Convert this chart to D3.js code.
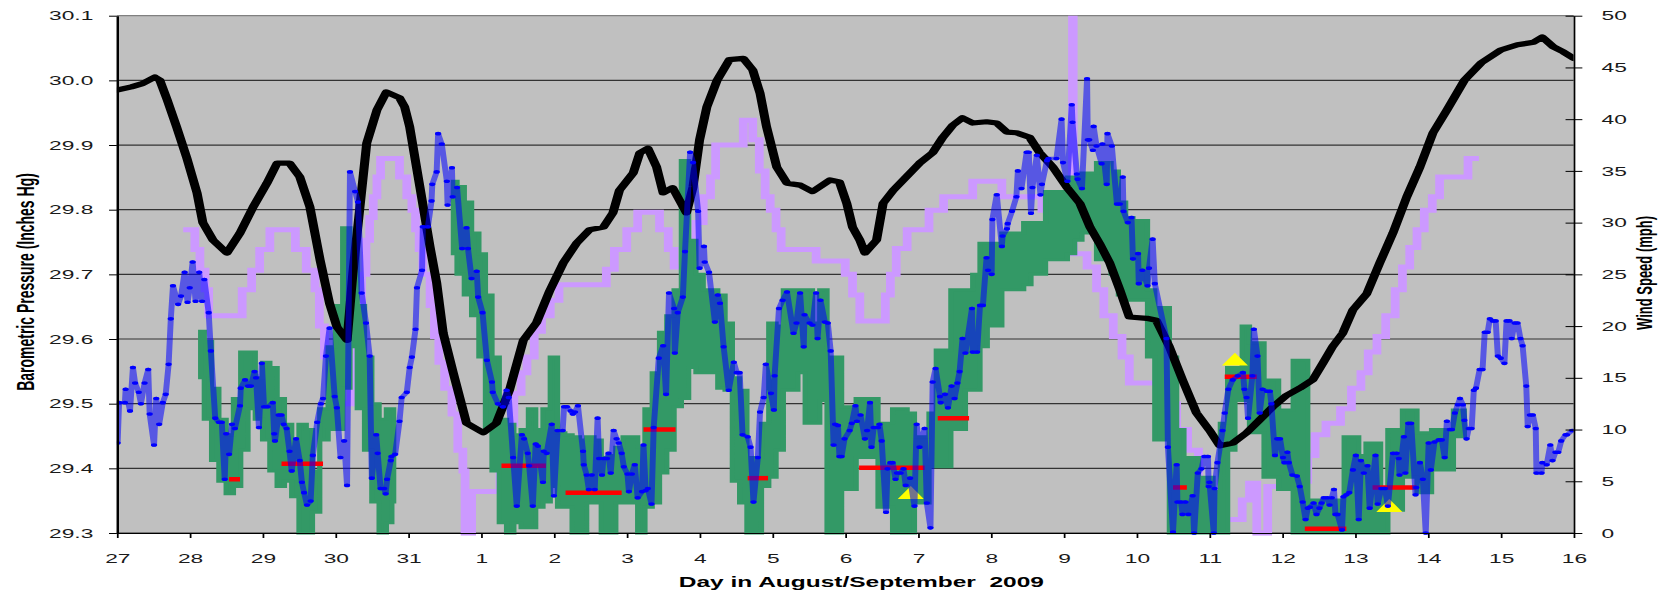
<!DOCTYPE html>
<html>
<head>
<meta charset="utf-8">
<script src="https://cdn.jsdelivr.net/npm/d3@7/dist/d3.min.js"></script>
<style>
html, body { margin: 0; padding: 0; background: #fff; overflow: hidden; }
svg { display: block; }
</style>
</head>
<body>
<div id="chart"></div>
<script>
// ---- data (days after 27 Aug 2009 00:00) ----
const dayLabels = ['27','28','29','30','31','1','2','3','4','5','6','7','8','9','10','11','12','13','14','15','16'];
const pressureTicks = [29.3, 29.4, 29.5, 29.6, 29.7, 29.8, 29.9, 30.0, 30.1];
const windTicks = [0, 5, 10, 15, 20, 25, 30, 35, 40, 45, 50];

// barometric pressure, inches Hg
const pressure = [
[0,29.985],[0.2,29.99],[0.35,29.995],[0.52,30.005],[0.59,30.0],[0.69,29.97],[0.82,29.928],[0.96,29.88],[1.1,29.826],[1.18,29.78],[1.32,29.753],[1.51,29.733],[1.69,29.764],[1.87,29.804],[2.06,29.841],[2.2,29.872],[2.37,29.872],[2.51,29.851],[2.65,29.804],[2.79,29.722],[2.92,29.655],[3.02,29.619],[3.16,29.598],[3.24,29.702],[3.43,29.903],[3.57,29.954],[3.7,29.982],[3.88,29.973],[3.95,29.959],[4.02,29.928],[4.16,29.835],[4.3,29.742],[4.39,29.687],[4.48,29.609],[4.62,29.547],[4.8,29.47],[5.03,29.455],[5.21,29.47],[5.39,29.521],[5.58,29.598],[5.76,29.625],[5.94,29.674],[6.13,29.718],[6.31,29.748],[6.49,29.769],[6.68,29.773],[6.81,29.795],[6.9,29.83],[7.09,29.857],[7.18,29.888],[7.29,29.895],[7.41,29.866],[7.5,29.826],[7.63,29.834],[7.82,29.795],[7.91,29.835],[8.0,29.908],[8.1,29.959],[8.24,30.0],[8.41,30.032],[8.6,30.034],[8.73,30.016],[8.83,29.98],[8.92,29.928],[9.06,29.866],[9.2,29.841],[9.38,29.838],[9.55,29.828],[9.79,29.846],[9.92,29.843],[10.02,29.81],[10.1,29.773],[10.2,29.753],[10.27,29.733],[10.43,29.753],[10.52,29.81],[10.66,29.83],[10.84,29.851],[11.02,29.872],[11.2,29.888],[11.34,29.912],[11.48,29.931],[11.61,29.942],[11.75,29.934],[11.94,29.936],[12.08,29.934],[12.22,29.92],[12.35,29.919],[12.53,29.912],[12.67,29.888],[12.85,29.866],[13.04,29.835],[13.22,29.81],[13.36,29.773],[13.49,29.748],[13.63,29.718],[13.77,29.676],[13.9,29.634],[14.14,29.632],[14.27,29.629],[14.45,29.588],[14.63,29.537],[14.82,29.486],[15.0,29.459],[15.14,29.435],[15.32,29.439],[15.51,29.455],[15.69,29.475],[15.87,29.495],[16.06,29.513],[16.24,29.524],[16.42,29.537],[16.56,29.563],[16.69,29.588],[16.83,29.609],[16.97,29.645],[17.16,29.67],[17.34,29.718],[17.52,29.764],[17.71,29.82],[17.89,29.866],[18.07,29.919],[18.26,29.954],[18.5,30.0],[18.73,30.027],[19.0,30.047],[19.23,30.055],[19.45,30.059],[19.57,30.067],[19.72,30.052],[19.86,30.044],[20.0,30.034]
];

// wind speed, mph (blue)
const windSpeed = [
[0.01,8.7],[0.03,12.6],[0.11,12.6],[0.12,13.9],[0.18,11.8],[0.22,16],[0.25,14.5],[0.3,13.6],[0.33,12.5],[0.38,14.5],[0.43,15.8],[0.45,11.5],[0.51,8.5],[0.54,13],[0.58,10.5],[0.63,12.6],[0.67,13.4],[0.71,16.3],[0.74,20.7],[0.77,23.9],[0.84,22.1],[0.88,22.9],[0.93,25.2],[0.97,22.3],[1.0,23.7],[1.04,26.2],[1.08,22.4],[1.13,25.2],[1.17,22.4],[1.2,24.5],[1.26,21.3],[1.29,17.6],[1.35,11.1],[1.4,10.7],[1.44,10.7],[1.48,5.2],[1.5,9.6],[1.54,7.6],[1.58,10.5],[1.62,10.1],[1.69,12.3],[1.7,14],[1.76,14.8],[1.8,14.2],[1.84,14.2],[1.89,15.6],[1.91,15],[1.95,10.2],[1.99,16.4],[2.02,12.2],[2.07,12.2],[2.14,12.6],[2.16,9.6],[2.17,8.9],[2.22,11.4],[2.26,11.4],[2.29,10.5],[2.33,10.1],[2.37,7.9],[2.4,6],[2.46,9.1],[2.51,7],[2.54,4.9],[2.57,3.9],[2.61,2.7],[2.66,3.1],[2.69,7.5],[2.75,10.7],[2.8,12.5],[2.83,13],[2.87,17.1],[2.92,19.8],[2.99,13.2],[3.02,12.1],[3.07,7.3],[3.12,8.9],[3.16,4.6],[3.2,34.9],[3.27,33],[3.31,32],[3.36,23.2],[3.42,20.3],[3.47,17.1],[3.5,5.3],[3.56,9.5],[3.58,7.7],[3.62,4.3],[3.67,4.3],[3.69,3.8],[3.71,5.2],[3.76,7],[3.77,7.4],[3.82,7.6],[3.88,10.8],[3.91,13.1],[3.98,13.6],[4.02,16],[4.05,17],[4.1,19.7],[4.12,23.7],[4.19,25.4],[4.2,29.6],[4.27,29.6],[4.32,32.1],[4.33,33.7],[4.39,34.9],[4.41,38.6],[4.46,37.6],[4.53,34],[4.54,31.7],[4.6,35.3],[4.61,32.5],[4.67,33.4],[4.74,27.5],[4.8,29.5],[4.82,27.5],[4.87,24.6],[4.94,25.3],[4.96,22.8],[5.02,21.3],[5.08,16.7],[5.15,14.6],[5.16,13.6],[5.23,12.5],[5.3,12.2],[5.35,13.8],[5.38,13.1],[5.44,7.3],[5.49,2.6],[5.56,9.5],[5.59,9.1],[5.64,7.7],[5.66,6.5],[5.71,2.6],[5.75,8.6],[5.78,8.4],[5.85,4.9],[5.86,7.9],[5.9,7.7],[5.97,10.5],[6.0,3.6],[6.05,9.9],[6.12,9.9],[6.14,12.2],[6.18,12.2],[6.23,11.8],[6.26,11.5],[6.29,11.7],[6.33,12.3],[6.4,7.9],[6.41,6.6],[6.45,5.6],[6.48,4.2],[6.52,5.6],[6.56,4.2],[6.6,11.1],[6.62,7.2],[6.66,5.6],[6.68,7.2],[6.73,7.2],[6.75,7.7],[6.78,5.8],[6.82,9.9],[6.86,9.1],[6.89,8.7],[6.93,7.7],[6.96,6.4],[7.01,5.7],[7.03,4],[7.07,5.7],[7.11,6.6],[7.15,3.4],[7.21,4],[7.23,8.5],[7.26,4.1],[7.29,4.3],[7.34,2.8],[7.37,10.2],[7.44,16.9],[7.5,18.1],[7.54,13.4],[7.58,23.2],[7.65,21.7],[7.66,17.4],[7.7,21.3],[7.77,22.8],[7.8,27.2],[7.87,36.8],[7.91,35.8],[7.98,31.1],[8.0,25.6],[8.06,27.7],[8.07,26.2],[8.13,25.2],[8.21,20.4],[8.25,23],[8.28,22.2],[8.33,18],[8.4,13.8],[8.47,16.5],[8.51,15.5],[8.55,15.5],[8.59,9.5],[8.66,9.3],[8.7,8.3],[8.74,3],[8.8,7.3],[8.83,11.7],[8.88,13.1],[8.91,16.3],[8.98,13.5],[9.02,11.9],[9.03,15.2],[9.09,21.7],[9.14,22.5],[9.2,23.3],[9.29,19.3],[9.33,20.3],[9.38,23.2],[9.43,18],[9.44,21.1],[9.51,20.3],[9.55,20.1],[9.6,23.2],[9.62,18.8],[9.66,22.5],[9.72,20.4],[9.76,20.3],[9.8,17.6],[9.84,8.5],[9.86,10.5],[9.9,10.4],[9.92,7.4],[9.95,7.4],[9.99,9.1],[10.06,9.9],[10.09,10.6],[10.14,12.3],[10.16,10.8],[10.21,11.4],[10.27,9.1],[10.3,9.9],[10.34,12.6],[10.36,8.3],[10.39,10.2],[10.45,10.2],[10.47,10.5],[10.5,8.9],[10.56,2],[10.58,6.2],[10.62,6.8],[10.65,6.8],[10.69,5.2],[10.71,5.8],[10.76,5.8],[10.8,6.2],[10.83,4.6],[10.89,5.3],[10.95,2.6],[10.98,10.5],[11.02,8.3],[11.09,10.1],[11.12,2.9],[11.17,0.5],[11.2,14.6],[11.24,15.9],[11.3,13.2],[11.31,12.6],[11.37,13.4],[11.41,12.1],[11.46,14.2],[11.5,13],[11.54,14.5],[11.57,15.6],[11.61,18.8],[11.65,17.4],[11.74,21.7],[11.75,17.5],[11.81,17.5],[11.85,22],[11.89,22],[11.94,26.6],[11.96,25.4],[12.01,25],[12.02,30.3],[12.08,32.7],[12.15,27.7],[12.16,28.7],[12.22,29.4],[12.23,29.9],[12.29,31.1],[12.35,32.5],[12.37,35],[12.42,33.3],[12.49,36.8],[12.52,36.8],[12.55,30.9],[12.57,33.4],[12.63,36.5],[12.68,32.7],[12.7,33.7],[12.77,36],[12.79,36.2],[12.9,36.2],[12.97,40],[12.99,35.8],[13.05,34],[13.11,41.4],[13.12,39.7],[13.18,34.7],[13.19,34.2],[13.25,33.3],[13.32,43.9],[13.33,38],[13.35,38],[13.4,37],[13.41,39.3],[13.45,37.4],[13.52,35.7],[13.53,37.6],[13.59,33.7],[13.6,38.6],[13.66,37.4],[13.73,31.8],[13.77,31.8],[13.81,34.4],[13.82,31.1],[13.88,30],[13.93,30.5],[13.95,26.5],[14.02,27],[14.03,24.1],[14.08,25.4],[14.15,23.9],[14.17,25.6],[14.22,28.4],[14.25,24.1],[14.41,18.8],[14.43,8.3],[14.5,0.1],[14.55,6.6],[14.56,3],[14.61,3],[14.63,1.8],[14.67,3],[14.71,1.8],[14.77,3.6],[14.79,0],[14.84,5.8],[14.89,6.2],[14.93,7.4],[14.98,7.4],[14.99,4.5],[15.0,4.9],[15.06,0],[15.07,4.3],[15.11,6.8],[15.18,9.9],[15.21,11.6],[15.26,13.9],[15.32,14.8],[15.39,15.2],[15.46,15.5],[15.48,13.9],[15.51,13.1],[15.53,11.1],[15.59,15.2],[15.61,19.7],[15.66,17.1],[15.69,11.6],[15.73,13.9],[15.79,13.7],[15.83,13.7],[15.85,12.5],[15.9,7.5],[15.93,9.1],[15.97,9.1],[16.01,7.3],[16.03,6.8],[16.07,7.8],[16.09,6.8],[16.14,5.6],[16.2,5.5],[16.24,4.5],[16.28,3],[16.32,1.3],[16.35,2.4],[16.38,2.5],[16.43,2.9],[16.47,1.8],[16.51,2.4],[16.54,2.9],[16.57,3.4],[16.62,3.4],[16.65,2.7],[16.68,3.4],[16.71,4.2],[16.73,1.8],[16.76,1.8],[16.82,0.3],[16.84,3.5],[16.88,3.7],[16.92,3.9],[16.97,6.1],[17.01,7.5],[17.05,1.3],[17.08,7],[17.12,5.8],[17.17,6.5],[17.2,2.4],[17.28,7.5],[17.31,2.8],[17.36,4.3],[17.41,4.3],[17.45,2.6],[17.52,7.7],[17.57,7.7],[17.6,7.2],[17.61,5.6],[17.67,9.3],[17.69,5.8],[17.73,10.6],[17.77,10.6],[17.83,3.7],[17.84,4.4],[17.89,6.8],[17.93,5.2],[17.97,0],[18.01,8.7],[18.04,6.1],[18.09,8.8],[18.15,9],[18.19,9],[18.23,7.3],[18.26,10.8],[18.3,10],[18.33,10],[18.37,11.6],[18.41,12.4],[18.44,13],[18.48,12.4],[18.5,10.9],[18.53,9.1],[18.56,10.1],[18.6,10.1],[18.63,13.8],[18.66,14],[18.71,15.8],[18.75,15.8],[18.78,19.4],[18.82,19.4],[18.85,20.7],[18.89,20.5],[18.93,20.5],[18.96,17.1],[19.0,16.9],[19.05,16.4],[19.08,20.5],[19.12,20.5],[19.15,18.8],[19.19,20.3],[19.23,20.3],[19.27,18.8],[19.3,18.1],[19.35,14.2],[19.37,10.3],[19.4,11.4],[19.44,11.4],[19.48,10.1],[19.49,5.8],[19.56,5.8],[19.57,6.8],[19.63,6.6],[19.68,8.5],[19.71,7],[19.75,7.8],[19.79,7.8],[19.83,8.9],[19.89,9.5],[19.91,9.5],[19.98,9.9]
];

// green band: [day, low, high] in mph
const gustA = [
[1.15,15,19.5],[1.25,11,18.5],[1.35,7,14],[1.45,5,11],[1.55,3.8,9.5],[1.65,4.5,13],[1.75,8,17.5],[1.85,12,17.5],[1.95,11,15],[2.05,9,16.5],[2.15,6,16],[2.25,4.5,13],[2.35,5,10.5],[2.45,3.5,9],[2.55,0,10.5],[2.65,0,10],[2.72,2,6],[2.85,9,12],[2.95,10,18],[3.05,10,22],[3.15,14,29.5],[3.25,18,28],[3.35,12,22],[3.45,8,17],[3.55,3,12.5],[3.65,0,11],[3.75,1,12],[3.8,3,12]
];
const gustB = [
[4.62,27,34],[4.72,25,33.5],[4.82,23,32],[4.92,21,29],[5.02,17,27],[5.1,10,23],[5.2,6,17],[5.3,1,11],[5.4,0,10.5],[5.5,1,9.5],[5.6,0.5,10],[5.7,0.5,12],[5.8,2.5,10],[5.9,3,12],[6.0,4.5,17],[6.1,2.5,9.7],[6.2,2.5,9.5],[6.3,0,9.3],[6.4,0,9],[6.5,2.9,9.3],[6.6,2.9,9],[6.7,0,7.3],[6.8,0,7.5],[6.9,2.9,8.3],[7.0,2.9,9.3],[7.1,2.9,9.3],[7.2,0,8.3],[7.3,2.5,12],[7.4,2.9,15.5],[7.5,5.8,19.4],[7.6,8,21],[7.7,12.2,23.5],[7.8,13,36],[7.9,16,28.3],[8.0,15.5,25],[8.1,15.5,23.5],[8.2,15.5,23.5],[8.3,14,23],[8.4,13.8,20.3],[8.5,5,15],[8.6,2.9,13.8],[8.7,0,7.3],[8.8,0,7.3],[8.9,4.5,10.6],[9.0,5.4,20.3],[9.1,8,20],[9.2,13.8,23.5],[9.3,13.8,23.5],[9.4,15.5,23.5],[9.5,10.6,23.5],[9.6,10.6,20.3],[9.7,12.8,23.5],[9.8,0,17],[9.9,0,17],[10.0,4.2,12.2],[10.1,4.2,12.2],[10.2,7.3,13],[10.3,7.3,13],[10.4,7.3,13],[10.5,2.5,10.6],[10.6,2.5,10.6],[10.7,0,12],[10.8,0,12],[10.9,0,11.6],[11.0,2.9,9.3],[11.1,2.9,9.3],[11.2,6.4,11.6],[11.3,6.4,17.7],[11.4,6.4,17.7],[11.5,10,23.5],[11.6,10,23.5],[11.7,13.8,23.5],[11.8,13.8,25],[11.9,18,28],[12.0,20,28],[12.1,20,28],[12.2,23.5,29],[12.3,23.5,29],[12.4,23.5,29],[12.5,24,30],[12.6,25,30],[12.7,25,30],[12.8,26.4,33],[12.9,26.4,33],[13.0,26.4,33],[13.1,27,34.4],[13.2,28.3,34.4],[13.3,29,34.8],[13.4,29,34.8],[13.5,26.4,35.8],[13.6,26.4,35.8],[13.7,25,35],[13.8,23,32],[13.9,22.5,30.5],[14.0,22.5,30.2],[14.1,22.5,30.2],[14.2,17,23.5],[14.3,9,21.8],[14.4,9,21.8],[14.5,0,17],[14.6,0,10],[14.7,0,7.3],[14.8,0,7.3],[14.9,0,5.4],[15.0,0,5.4],[15.1,0,4],[15.2,0,10.6],[15.3,8,16],[15.4,12.8,16],[15.5,12.8,20],[15.6,9.7,18.4],[15.7,9.7,18.4],[15.8,5.4,14.8],[15.9,5.4,14.8],[16.0,4.2,11.9],[16.1,4.2,11.9],[16.2,0,16.7],[16.3,0,16.7],[16.4,0,3.2],[16.5,0,3.2],[16.6,0,3.2],[16.7,0,3.2],[16.8,0,3.2],[16.9,0,9.3],[17.0,0,9.3],[17.1,0,7.5],[17.2,0,8.7],[17.3,0,8.7],[17.4,0,4.2],[17.5,2.2,10],[17.6,2.2,10],[17.7,5.4,11.9],[17.8,5.4,11.9],[17.9,3.9,9.7],[18.0,3.9,9.7],[18.1,6.1,10],[18.2,6.1,10],[18.3,6.1,10],[18.4,9.3,11.9],[18.5,9.3,11.9]
];

// lavender stepped series, right-axis units
const steps = [
[0.91,29.3],[1.07,27.4],[1.14,25.4],[1.21,23.5],[1.26,21],[1.72,23.5],[1.85,25.4],[1.96,27.4],[2.1,29.3],[2.45,27.4],[2.6,25.4],[2.72,23.5],[2.78,20],[2.85,17],[2.92,14],[3.0,12.5],[3.22,14],[3.26,17],[3.3,21],[3.36,25],[3.42,28.3],[3.47,30.5],[3.52,32.5],[3.57,34.4],[3.62,36.2],[3.88,34.4],[3.98,32.5],[4.05,31.2],[4.1,29.3],[4.15,27.4],[4.2,25],[4.3,22],[4.36,19],[4.42,16.5],[4.5,14],[4.6,11.5],[4.68,8],[4.75,6],[4.78,0],[4.87,4],[5.26,10.5],[5.45,13.5],[5.55,15.5],[5.63,17],[5.73,19.5],[5.83,21],[5.95,22.5],[6.07,24],[6.72,25.5],[6.83,27.4],[7.0,29.3],[7.15,31],[7.45,29.3],[7.57,27.4],[7.65,25.7],[7.85,28],[7.95,30],[8.05,32.5],[8.15,34.4],[8.22,37.5],[8.6,39.9],[8.73,38],[8.82,35],[8.9,32.5],[8.97,31.2],[9.05,29.3],[9.12,27.4],[9.6,26.3],[10.0,25],[10.1,23],[10.2,20.5],[10.55,23],[10.62,25],[10.7,27.5],[10.85,29.3],[11.15,31.2],[11.35,32.5],[11.75,34],[12.15,32.5],[12.7,31.2],[12.8,29.3],[12.95,28],[13.12,50],[13.13,27],[13.32,25.7],[13.45,23.5],[13.55,21],[13.68,19],[13.8,17],[13.9,14.5],[14.4,12.5],[14.55,10],[14.7,8],[14.85,5],[14.95,4],[15.15,1.3],[15.45,3.2],[15.55,4.8],[15.65,0],[15.8,4.5],[16.0,5],[16.35,7.5],[16.45,9.5],[16.6,10.6],[16.8,12],[16.95,14],[17.08,15.5],[17.18,17.5],[17.3,19],[17.42,21],[17.55,23.5],[17.65,25.7],[17.75,27.6],[17.85,29.3],[17.95,31.2],[18.06,32.5],[18.16,34.4],[18.55,36.2],[18.7,36.2]
];

// red bars: [start day, end day, mph]
const calmBars = [
[1.54,1.69,5.2],[2.26,2.83,6.7],[5.28,5.89,6.5],[6.16,6.93,3.9],[7.23,7.67,10],[8.66,8.94,5.3],[10.19,11.09,6.3],[11.27,11.7,11.1],[14.5,14.69,4.4],[15.21,15.65,15.1],[16.31,16.88,0.4],[17.24,17.84,4.4]
];
// yellow triangles: [day, mph]
const markers = [[10.9,3.7],[15.35,16.6],[17.47,2.45]];

// ---- layout ----
const W = 1663, H = 590;
const stretch = 1.75;            // the original picture is drawn widened
const VW = W / stretch;
const plot = {left: 66.8, right: 899.2, top: 15.7, bottom: 533};
const font = '"Liberation Sans", Arial, sans-serif';

const t0 = Date.UTC(2009, 7, 27);
const day = d => new Date(t0 + d * 864e5);

const x = d3.scaleUtc().domain([day(0), day(20)]).range([plot.left, plot.right]);
const yP = d3.scaleLinear().domain([29.3, 30.1]).range([plot.bottom, plot.top]);
const yW = d3.scaleLinear().domain([0, 50]).range([plot.bottom, plot.top]);

const svg = d3.select('#chart').append('svg')
    .attr('width', W)
    .attr('height', H)
    .attr('viewBox', `0 0 ${VW} ${H}`)
    .attr('preserveAspectRatio', 'none');

svg.append('defs').append('clipPath').attr('id', 'clip')
    .append('rect')
    .attr('x', plot.left)
    .attr('y', plot.top)
    .attr('width', plot.right - plot.left)
    .attr('height', plot.bottom - plot.top + 3);

svg.append('rect')
    .attr('x', plot.left)
    .attr('y', plot.top)
    .attr('width', plot.right - plot.left)
    .attr('height', plot.bottom - plot.top)
    .attr('fill', '#c0c0c0');

// gridlines
svg.append('g').selectAll('line')
    .data(pressureTicks)
    .join('line')
    .attr('x1', plot.left)
    .attr('x2', plot.right)
    .attr('y1', d => yP(d))
    .attr('y2', d => yP(d))
    .attr('stroke', (d, i) => i === pressureTicks.length - 1 ? '#808080' : '#333')
    .attr('stroke-width', 1.2);

const g = svg.append('g').attr('clip-path', 'url(#clip)');

// lavender steps
g.append('path')
    .datum(steps)
    .attr('d', d3.line().x(d => x(day(d[0]))).y(d => yW(d[1])).curve(d3.curveStepAfter))
    .attr('fill', 'none')
    .attr('stroke', '#cc99ff')
    .attr('stroke-width', 5)
    .attr('stroke-linejoin', 'miter');

// green band (blocky, like the original thick jagged trace)
const gustArea = d3.area()
    .x(d => x(day(d[0])))
    .y0(d => yW(d[1]))
    .y1(d => yW(d[2]))
    .curve(d3.curveStep);
[gustA, gustB].forEach(seg => {
    g.append('path')
        .datum(seg)
        .attr('d', gustArea)
        .attr('fill', '#339966')
        .attr('stroke', '#339966')
        .attr('stroke-width', 3)
        .attr('stroke-linejoin', 'miter');
});

// pressure
g.append('path')
    .datum(pressure)
    .attr('d', d3.line().x(d => x(day(d[0]))).y(d => yP(d[1])))
    .attr('fill', 'none')
    .attr('stroke', '#000')
    .attr('stroke-width', 5.2)
    .attr('stroke-linejoin', 'round')
    .attr('stroke-linecap', 'round');

// red bars
g.selectAll('.calm')
    .data(calmBars)
    .join('line')
    .attr('class', 'calm')
    .attr('x1', d => x(day(d[0])))
    .attr('x2', d => x(day(d[1])))
    .attr('y1', d => yW(d[2]))
    .attr('y2', d => yW(d[2]))
    .attr('stroke', '#ff0000')
    .attr('stroke-width', 4.5);

// yellow triangles
g.selectAll('.mark')
    .data(markers)
    .join('path')
    .attr('class', 'mark')
    .attr('transform', d => `translate(${x(day(d[0]))},${yW(d[1])})`)
    .attr('d', d3.symbol(d3.symbolTriangle, 96))
    .attr('fill', '#ffff00');

// wind speed
g.append('path')
    .datum(windSpeed)
    .attr('d', d3.line().x(d => x(day(d[0]))).y(d => yW(d[1])))
    .attr('fill', 'none')
    .attr('stroke', '#0000ff')
    .attr('stroke-opacity', 0.55)
    .attr('stroke-width', 3.4)
    .attr('stroke-linejoin', 'round');

g.selectAll('.dot')
    .data(windSpeed)
    .join('circle')
    .attr('class', 'dot')
    .attr('cx', d => x(day(d[0])))
    .attr('cy', d => yW(d[1]))
    .attr('r', 1.8)
    .attr('fill', '#0000ff');

// axes
function styleAxis(sel) {
    sel.attr('font-size', 13).attr('font-family', font);
    sel.selectAll('text').attr('fill', '#1a1a1a');
    sel.selectAll('line').attr('stroke', '#000');
    sel.select('.domain').attr('stroke', '#000');
}

const axL = svg.append('g')
    .attr('transform', `translate(${plot.left},0)`)
    .call(d3.axisLeft(yP).tickValues(pressureTicks).tickFormat(d3.format('.1f'))
        .tickSize(4.5).tickSizeOuter(0).tickPadding(9));
styleAxis(axL);
axL.select('.domain').attr('stroke-width', 1.4);

const axR = svg.append('g')
    .attr('transform', `translate(${plot.right},0)`)
    .call(d3.axisRight(yW).tickValues(windTicks).tickFormat(d3.format('d'))
        .tickSize(5).tickSizeOuter(0).tickPadding(11));
styleAxis(axR);
axR.selectAll('.tick line').attr('x1', -4.6);

const axB = svg.append('g')
    .attr('transform', `translate(0,${plot.bottom})`)
    .call(d3.axisBottom(x).tickValues(dayLabels.map((_, i) => day(i)))
        .tickFormat((d, i) => dayLabels[i])
        .tickSize(5).tickSizeOuter(0).tickPadding(15.5));
styleAxis(axB);

// titles
svg.append('text')
    .attr('transform', 'translate(14.3,282) rotate(-90)')
    .attr('text-anchor', 'middle')
    .attr('dy', '0.35em')
    .attr('font-family', font)
    .attr('font-weight', 'bold')
    .attr('font-size', 14)
    .text('Barometric Pressure (Inches Hg)');

svg.append('text')
    .attr('transform', 'translate(939.7,273) rotate(-90)')
    .attr('text-anchor', 'middle')
    .attr('dy', '0.35em')
    .attr('font-family', font)
    .attr('font-weight', 'bold')
    .attr('font-size', 13)
    .text('Wind Speed (mph)');

svg.append('text')
    .attr('x', 492.2)
    .attr('y', 587)
    .attr('text-anchor', 'middle')
    .attr('font-family', font)
    .attr('font-weight', 'bold')
    .attr('font-size', 14)
    .style('white-space', 'pre')
    .text('Day in August/September  2009');
</script>
</body>
</html>
